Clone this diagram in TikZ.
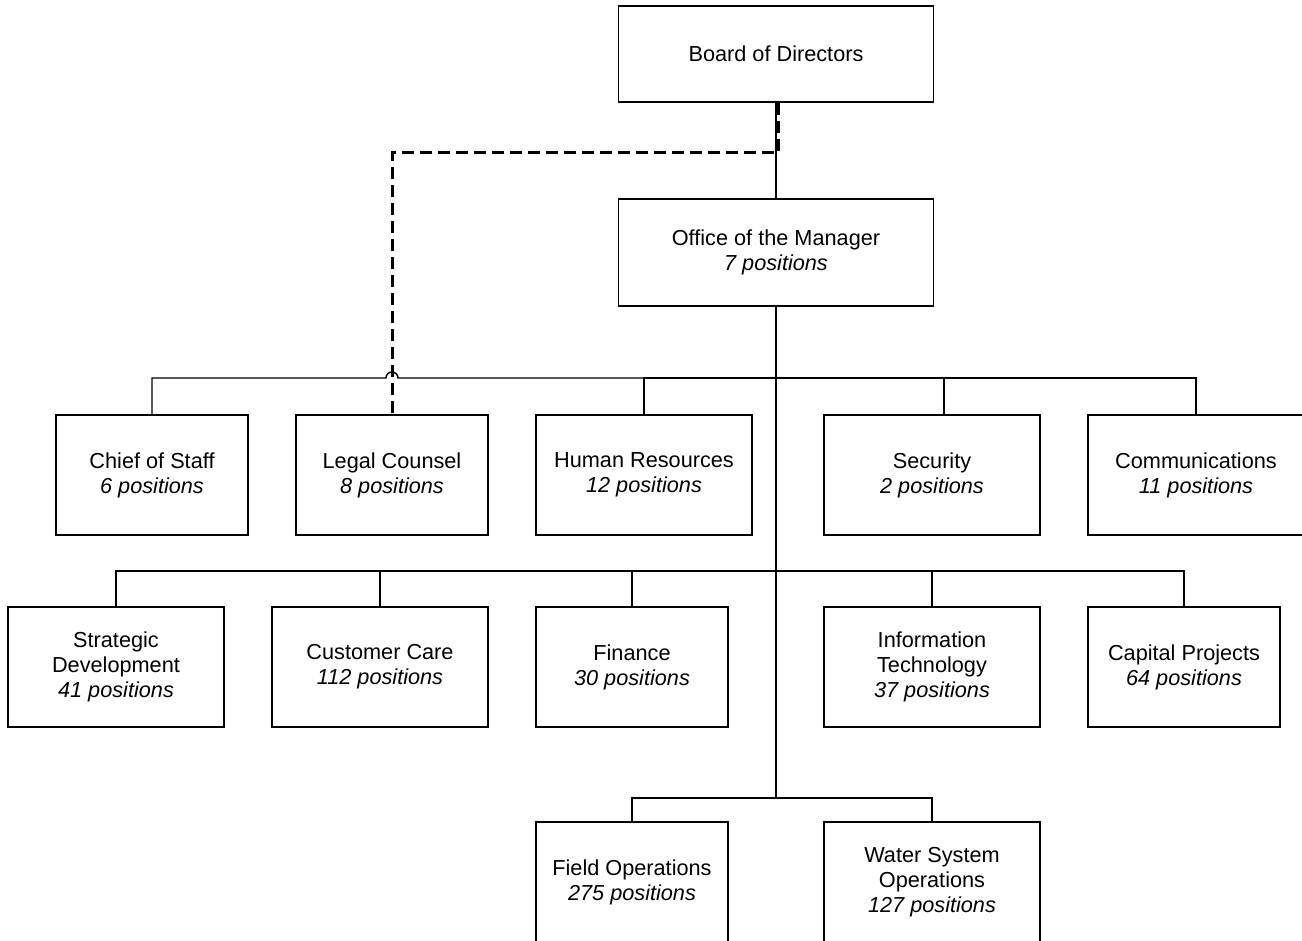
\documentclass[tikz,border=0pt]{standalone}
\usepackage{fontspec}
\setmainfont{Liberation Sans}
\usepackage{tikz}
\usetikzlibrary{positioning}

\begin{document}
\begin{tikzpicture}[x=0.5pt, y=-0.5pt,
    unit/.style={draw, line width=0.85pt, align=center, inner sep=0pt,
      minimum height=60pt, font=\fontsize{10.85}{12.5}\selectfont},
    narrow/.style={unit, minimum width=96pt},
    wide/.style={unit, minimum width=108pt},
    link/.style={line width=0.7pt},
    trunk/.style={line width=1.2pt},
    dotline/.style={line width=1.5pt, dash pattern=on 6pt off 3pt}]
  \useasboundingbox (0,0) rectangle (1302,941);
  \clip (0,0) rectangle (1302,941);

  % top
  \node[unit, minimum width=157.5pt, minimum height=48pt] (board) at (776,54) {Board of Directors};
  \node[unit, minimum width=157.5pt, minimum height=53.5pt] (office) at (776,252.5) {Office of the Manager\\\textit{7 positions}};

  % first row
  \node[narrow] (chief)    at (152,475)  {Chief of Staff\\\textit{6 positions}};
  \node[narrow] (legal)    at (392,475)  {Legal Counsel\\\textit{8 positions}};
  \node[wide]   (hr)       at (644,475)  {Human Resources\\\textit{12 positions}};
  \node[wide]   (security) at (932,475)  {Security\\\textit{2 positions}};
  \node[wide]   (comms)    at (1196,475) {Communications\\\textit{11 positions}};

  % second row
  \node[wide]   (strategic) at (116,667)  {Strategic\\Development\\\textit{41 positions}};
  \node[wide]   (care)      at (380,667)  {Customer Care\\\textit{112 positions}};
  \node[narrow] (finance)   at (632,667)  {Finance\\\textit{30 positions}};
  \node[wide]   (it)        at (932,667)  {Information\\Technology\\\textit{37 positions}};
  \node[narrow] (capital)   at (1184,667) {Capital Projects\\\textit{64 positions}};

  % third row
  \node[narrow] (field) at (632,882) {Field Operations\\\textit{275 positions}};
  \node[wide]   (water) at (932,882) {Water System\\Operations\\\textit{127 positions}};

  \coordinate (bus1) at (776,378);
  \coordinate (bus2) at (776,571);
  \coordinate (bus3) at (776,798);
  \coordinate (hop)  at (386,378);

  \draw[link] (board.south) -- (office.north);
  \draw[trunk] (office.south) -- (bus3);

  \draw[link] (chief.north) |- (hop) arc[start angle=180, end angle=360, radius=6] -- (bus1);
  \draw[link] (bus1) -| (hr.north);
  \draw[link] (bus1) -| ([xshift=6pt]security.north);
  \draw[link] (bus1) -| (comms.north);

  \draw[link] (bus2) -| (strategic.north);
  \draw[link] (bus2) -| (care.north);
  \draw[link] (bus2) -| (finance.north);
  \draw[link] (bus2) -| (it.north);
  \draw[link] (bus2) -| (capital.north);

  \draw[link] (bus3) -| (field.north);
  \draw[link] (bus3) -| (water.north);

  \draw[dotline] ([xshift=1pt]board.south) -- ++(0,50) -| (legal.north);
\end{tikzpicture}
\end{document}
